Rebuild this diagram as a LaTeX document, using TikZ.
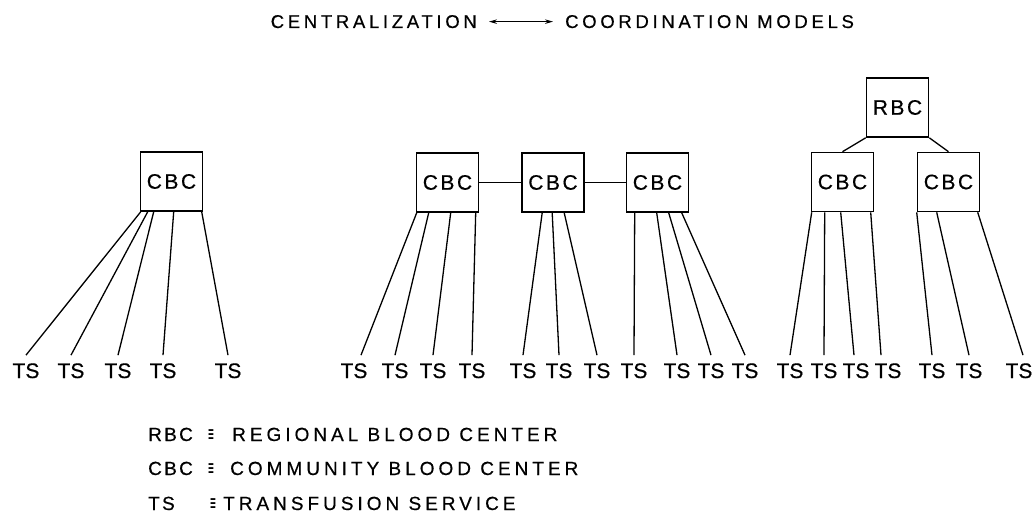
\documentclass[tikz,border=0pt]{standalone}
\usepackage{fontspec}
\setmainfont[FakeBold=0.5]{Liberation Sans}
\newfontfamily\lblfont[LetterSpace=12,FakeBold=0.5]{Liberation Sans}
\newfontfamily\ttlfont[LetterSpace=20,FakeBold=0.5]{Liberation Sans}
\newfontfamily\legfont[LetterSpace=21,FakeBold=0.5]{Liberation Sans}
\newfontfamily\abbfont[LetterSpace=12,FakeBold=0.5]{Liberation Sans}
\newfontfamily\symfont{DejaVu Sans}
\usetikzlibrary{arrows.meta,calc}
\tikzset{
  box/.style={draw, line width=1.6pt, minimum width=62pt, minimum height=59pt, inner sep=0pt,
    font=\lblfont\fontsize{21}{21}\selectfont},
  tslabel/.style={inner xsep=0pt, inner ysep=8pt, anchor=base, font=\fontsize{21}{21}\selectfont},
  link/.style={line width=1.3pt},
  ttl/.style={inner sep=0pt, font=\ttlfont\fontsize{18.5}{18.5}\selectfont},
  leg/.style={inner sep=0pt, anchor=base west, font=\legfont\fontsize{19}{19}\selectfont},
  abb/.style={inner sep=0pt, anchor=base west, font=\abbfont\fontsize{19}{19}\selectfont},
  eqv/.style={inner sep=0pt, anchor=base, font=\symfont\fontsize{17}{17}\selectfont}
}
\begin{document}
\begin{tikzpicture}[x=1pt,y=-1pt]
\useasboundingbox (0,0) rectangle (1034,527);
% title
\node[ttl, anchor=base east] (t1) at (477,28) {CENTRALIZATION};
\node[ttl, anchor=base west] (t2) at (565,28) {COORDINATION MODELS};
\draw[line width=1pt, {Stealth[length=8pt,width=4.5pt]}-{Stealth[length=8pt,width=4.5pt]}]
  ($(t1.east)+(12,0)$) -- ($(t2.west)+(-12,0)$);
% left group
\node[box] (c0) at (171.5,181.5) {CBC};
\foreach \n/\x in {1/26,2/71,3/118,4/163,5/228}
  \node[tslabel] (l\n) at (\x,378) {TS};
\foreach \n/\d in {1/1,2/8,3/14,4/34,5/62}
  \draw[link] ($(c0.south west)+(\d,0)$) -- (l\n.north);
% middle group
\node[box] (m1) at (447.5,182.5) {CBC};
\node[box] (m2) at (553,182.5) {CBC};
\node[box] (m3) at (657.5,182.5) {CBC};
\draw[link] (m1.east) -- (m2.west);
\draw[link] (m2.east) -- (m3.west);
\foreach \n/\x in {1/354,2/395,3/433,4/472,5/523,6/559,7/597,8/634,9/677,10/711,11/745}
  \node[tslabel] (s\n) at (\x,378) {TS};
\draw[link] ($(m1.south west)+(1,0)$) -- ($(s1.north)+(7,0)$);
\draw[link] ($(m1.south west)+(13,0)$) -- (s2.north);
\draw[link] ($(m1.south west)+(35,0)$) -- (s3.north);
\draw[link] ($(m1.south west)+(60,0)$) -- (s4.north);
\draw[link] ($(m2.south west)+(21,0)$) -- (s5.north);
\draw[link] ($(m2.south west)+(31,0)$) -- (s6.north);
\draw[link] ($(m2.south west)+(43,0)$) -- (s7.north);
\draw[link] ($(m3.south west)+(9,0)$) -- (s8.north);
\draw[link] ($(m3.south west)+(31,0)$) -- (s9.north);
\draw[link] ($(m3.south west)+(43,0)$) -- (s10.north);
\draw[link] ($(m3.south west)+(56,0)$) -- (s11.north);
% right group
\node[box] (r0) at (897.5,107.5) {RBC};
\node[box] (r1) at (842.5,182) {CBC};
\node[box] (r2) at (948.5,182) {CBC};
\draw[link] (r0.south west) -- (r1.north);
\draw[link] (r0.south east) -- (r2.north);
\foreach \n/\x in {1/790,2/824,3/856,4/888,5/932,6/969,7/1019}
  \node[tslabel] (q\n) at (\x,378) {TS};
\draw[link] ($(r1.south west)+(1,0)$) -- (q1.north);
\draw[link] ($(r1.south west)+(14,0)$) -- (q2.north);
\draw[link] ($(r1.south west)+(30,0)$) -- ($(q3.north)+(-2,0)$);
\draw[link] ($(r1.south west)+(60,0)$) -- ($(q4.north)+(-7,0)$);
\draw[link] ($(r2.south west)+(0,0)$) -- (q5.north);
\draw[link] ($(r2.south west)+(20,0)$) -- (q6.north);
\draw[link] ($(r2.south west)+(61,0)$) -- ($(q7.north)+(4,0)$);
% legend
\node[abb] (a1) at (148,441) {RBC};
\node[eqv] (e1) at (211,441) {\scalebox{0.45}[1.3]{≡}};
\node[leg] (d1) at (232,441) {REGIONAL BLOOD CENTER};
\node[abb] (a2) at (148,475) {CBC};
\node[eqv] (e2) at (211,475) {\scalebox{0.45}[1.3]{≡}};
\node[leg] (d2) at (230,475) {COMMUNITY BLOOD CENTER};
\node[abb] (a3) at (148,510) {TS};
\node[eqv] (e3) at (213,510) {\scalebox{0.45}[1.3]{≡}};
\node[leg] (d3) at (223,510) {TRANSFUSION SERVICE};
\end{tikzpicture}
\end{document}
